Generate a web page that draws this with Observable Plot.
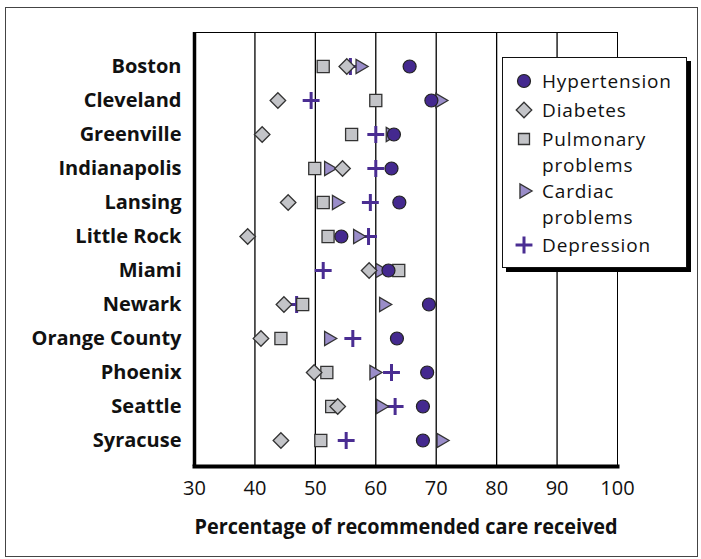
<!DOCTYPE html>
<html>
<head>
<meta charset="utf-8">
<script src="https://cdn.jsdelivr.net/npm/d3@7"></script>
<script src="https://cdn.jsdelivr.net/npm/@observablehq/plot@0.6"></script>
<style>
  html, body { margin: 0; padding: 0; background: #fff; }
  #wrap { position: relative; width: 701px; height: 559px; overflow: hidden; }
  #outer { position: absolute; left: 5px; top: 7px; width: 691px; height: 548px; border: 1.5px solid #444; box-sizing: content-box; pointer-events: none; }
  #chart { position: absolute; left: 0; top: 0; }
  #legend { position: absolute; left: 502px; top: 57px; width: 183px; height: 209px; background: #fff; border: 1px solid #111; box-shadow: 4px 4px 0 #000; font-family: "Open Sans", sans-serif; font-size: 19px; letter-spacing: 0.85px; color: #111; }
  #legend svg { position: absolute; left: 9px; }
  #legend .ln { position: absolute; left: 39px; height: 26px; line-height: 26px; white-space: nowrap; }
</style>
</head>
<body>
<div id="wrap">
  <div id="chart"></div>
  <div id="outer"></div>
  <div id="legend"></div>
</div>
<script>
const cities = ["Boston", "Cleveland", "Greenville", "Indianapolis", "Lansing", "Little Rock", "Miami", "Newark", "Orange County", "Phoenix", "Seattle", "Syracuse"];
const hypertension = [65.6, 69.2, 63.0, 62.6, 63.9, 54.3, 62.1, 68.8, 63.5, 68.5, 67.8, 67.8];
const diabetes     = [55.2, 43.8, 41.2, 54.5, 45.5, 38.8, 58.9, 44.8, 41.0, 49.8, 53.7, 44.3];
const pulmonary    = [51.3, 60.0, 56.0, 49.9, 51.3, 52.1, 63.8, 47.9, 44.3, 51.9, 52.7, 50.9];
const cardiac      = [57.4, 70.6, 62.4, 52.2, 53.5, 57.0, 60.7, 61.3, 52.2, 59.7, 60.8, 70.8];
const depression   = [55.8, 49.3, 60.0, 60.0, 59.1, 58.8, 51.3, 46.9, 56.2, 62.6, 63.2, 55.1];
const xTicks = [30, 40, 50, 60, 70, 80, 90, 100];
const gridTicks = [40, 50, 60, 70, 80, 90];
const seriesNames = ["Hypertension", "Diabetes", "Pulmonary\nproblems", "Cardiac\nproblems", "Depression"];

const C_CIRCLE = "#44298f", C_GRAY = "#c3c4c8", C_TRI = "#9a8dc9", C_PLUS = "#4a2d92", C_EDGE = "#333";

const chart = Plot.plot({
  width: 701,
  height: 559,
  marginTop: 32,
  marginBottom: 93,
  marginLeft: 194,
  marginRight: 84,
  style: { background: "transparent", overflow: "visible" },
  x: { domain: [30, 100], ticks: xTicks, tickSize: 0, tickPadding: 14, label: "Percentage of recommended care received", labelAnchor: "center", labelArrow: "none", labelOffset: 67 },
  y: { type: "point", domain: cities, range: [65, 440], padding: 0, tickSize: 0, tickPadding: 13, label: null },
  marks: [
    Plot.gridX(gridTicks, { stroke: "#000", strokeOpacity: 1, strokeWidth: 1.3 }),
    Plot.frame({ stroke: "#000", strokeWidth: 1 }),
    Plot.ruleX([30], { stroke: "#000", strokeWidth: 3.5 }),
    Plot.frame({ anchor: "bottom", stroke: "#000", strokeWidth: 4 }),
    Plot.dot(cities, { x: depression, y: d => d, symbol: "plus", r: 5.5, stroke: C_PLUS, strokeWidth: 3 }),
    Plot.dot(cities, { x: pulmonary, y: d => d, symbol: "square", r: 6.8, fill: C_GRAY, stroke: C_EDGE, strokeWidth: 1.3 }),
    Plot.dot(cities, { x: cardiac, y: d => d, symbol: "triangle", rotate: 90, r: 5.2, fill: C_TRI, stroke: C_EDGE, strokeWidth: 1.3 }),
    Plot.dot(cities, { x: diabetes, y: d => d, symbol: "diamond2", r: 7, fill: C_GRAY, stroke: C_EDGE, strokeWidth: 1.3 }),
    Plot.dot(cities, { x: hypertension, y: d => d, symbol: "circle", r: 6.5, fill: C_CIRCLE, stroke: "#222", strokeWidth: 1.2 })
  ]
});
document.getElementById("chart").appendChild(chart);

// style axes text
const svg = d3.select(chart);
svg.selectAll("[aria-label='y-axis tick label']")
  .attr("font-family", "'Open Sans', sans-serif").attr("font-weight", "bold").attr("font-size", 20).attr("fill", "#111");
svg.selectAll("[aria-label='x-axis tick label']")
  .attr("font-family", "'Open Sans', sans-serif").attr("font-size", 20).attr("fill", "#111");
svg.selectAll("[aria-label='x-axis label']")
  .attr("font-family", "'Open Sans', sans-serif").attr("font-weight", "bold").attr("font-size", 20.5).attr("fill", "#111");
svg.selectAll("[aria-label='x-axis label'] text")
  .attr("textLength", 423).attr("lengthAdjust", "spacingAndGlyphs");

// legend (y centers relative to legend box interior)
const legendDefs = [
  { type: d3.symbolCircle, size: Math.PI * 6.5 * 6.5, fill: C_CIRCLE, stroke: "#222", sw: 1.2, rotate: 0, lines: [23] },
  { type: d3.symbolDiamond2, size: Math.PI * 7 * 7, fill: C_GRAY, stroke: C_EDGE, sw: 1.3, rotate: 0, lines: [51.5] },
  { type: d3.symbolSquare, size: Math.PI * 6.2 * 6.2, fill: C_GRAY, stroke: C_EDGE, sw: 1.3, rotate: 0, lines: [80.5, 106.5] },
  { type: d3.symbolTriangle, size: Math.PI * 5.2 * 5.2, fill: C_TRI, stroke: C_EDGE, sw: 1.3, rotate: 90, lines: [133, 159] },
  { type: d3.symbolPlus, size: Math.PI * 5.5 * 5.5, fill: "none", stroke: C_PLUS, sw: 3, rotate: 0, lines: [186.5] }
];
const legend = document.getElementById("legend");
legendDefs.forEach((d, i) => {
  const s = d3.create("svg").attr("width", 24).attr("height", 24).style("top", (d.lines[0] - 12) + "px");
  s.append("path").attr("transform", `translate(12,12) rotate(${d.rotate})`)
    .attr("d", d3.symbol(d.type, d.size)())
    .attr("fill", d.fill).attr("stroke", d.stroke).attr("stroke-width", d.sw);
  legend.appendChild(s.node());
  seriesNames[i].split("\n").forEach((t, j) => {
    const ln = document.createElement("span");
    ln.className = "ln";
    ln.style.top = (d.lines[j] - 13) + "px";
    ln.textContent = t;
    legend.appendChild(ln);
  });
});
</script>
</body>
</html>
